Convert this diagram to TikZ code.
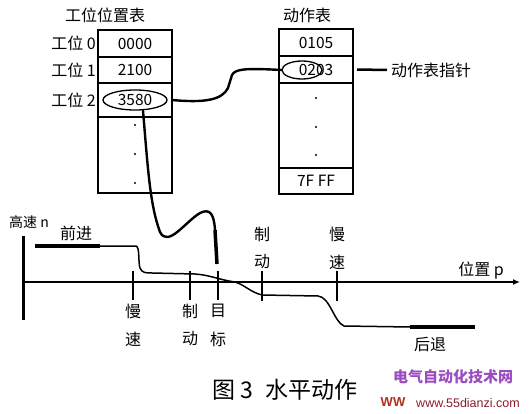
\documentclass[tikz,border=0pt]{standalone}
\usepackage{fontspec}
\setmainfont{Noto Sans CJK SC}
\newfontfamily\latin{Liberation Sans}
\usetikzlibrary{shapes.geometric,arrows.meta,positioning}
\definecolor{wmpurple}{HTML}{9A4CC0}
\definecolor{wmred}{HTML}{8A1C2C}
\definecolor{wmorange}{HTML}{B0301E}
\tikzset{
  cell/.style={draw, line width=1.3pt, minimum width=74pt, inner sep=0pt, outer sep=0pt, font=\fontsize{15.5}{15.5}\selectfont},
  lbl/.style={inner sep=0pt, font=\fontsize{16}{16}\selectfont},
  ring/.style={draw, ellipse, line width=1.3pt, inner sep=0pt},
  wire/.style={line width=2.4pt, line cap=round, line join=round},
  tick/.style={line width=1.8pt},
}
\begin{document}
\begin{tikzpicture}[x=1pt,y=-1pt]
\useasboundingbox (0,0) rectangle (529,414);
% position table
\node[lbl] (ttl1) at (105,15) {工位位置表};
\node[cell, minimum height=27pt] (w0) at (135,43.5) {0000};
\node[cell, minimum height=26pt, below=0pt of w0] (w1) {2100};
\node[cell, minimum height=34pt, below=0pt of w1] (w2) {3580};
\node[cell, minimum height=76pt, below=0pt of w2] (wr) {};
\foreach \y in {125,154,183} \fill (135,\y) circle (1.2pt);
\node[lbl, left=2pt of w0] (n0) {工位 0};
\node[lbl, left=2pt of w1] (n1) {工位 1};
\node[lbl, left=2pt of w2] (n2) {工位 2};
\node[ring, minimum width=64pt, minimum height=20pt] (e2) at (w2) {};
% action table
\node[lbl] (ttl2) at (307,15) {动作表};
\node[cell, minimum height=27pt] (a0) at (316,42.5) {0105};
\node[cell, minimum height=27pt, below=0pt of a0] (a1) {0203};
\node[cell, minimum height=85pt, below=0pt of a1] (ar) {};
\node[cell, minimum height=26pt, below=0pt of ar] (a2) {7F FF};
\foreach \y in {98,127,155} \fill (316,\y) circle (1.2pt);
\node[ring, minimum width=40pt, minimum height=18pt] (e1) at (302,70) {};
\node[lbl, anchor=west] (ptr) at (391,70) {动作表指针};
\draw[line width=2.5pt] ([xshift=-4pt]ptr.west) -- ([xshift=4pt]a1.east);
% pointer curves
\draw[wire] (w2.east) .. controls (205,103) and (222,100) .. (228,88) -- (232,75)
  .. controls (235,69) and (245,68) .. (e1.west);
\coordinate (tgt) at (217,264);
\draw[wire] ([xshift=8pt]e2.south) .. controls (148,170) and (150,205) .. (160,232)
  .. controls (168,248) and (185,222) .. (200,213) .. controls (210,208) and (214,214) .. (215,230);
\draw[line width=3.5pt] (215,230) -- (tgt);
% axes
\draw[line width=2.6pt, -{Latex[length=7pt,width=6pt]}] (23,282) -- (520,282);
\draw[line width=3pt] (23,236) -- (23,320);
\node[lbl, font=\fontsize{14}{14}\selectfont] (vlab) at (29,222) {高速 n};
\node[lbl] (hlab) at (481,271) {位置 p};
% marks below
\foreach \x/\a/\b in {133/慢/速, 190/制/动, 218/目/标} {
  \draw[tick] (\x,271) -- (\x,300);
  \node[lbl] at (\x,311) {\a};
  \node[lbl] at (\x,339) {\b};
}
% marks above
\foreach \x/\a/\b in {262/制/动, 337/慢/速} {
  \draw[tick] (\x,271) -- (\x,301);
  \node[lbl] at (\x,234) {\a};
  \node[lbl] at (\x,262) {\b};
}
% speed profile
\node[lbl] (fwd) at (76,233) {前进};
\node[lbl] (bwd) at (430,344) {后退};
\draw[line width=4pt] (35,246) -- (100,246);
\draw[line width=1.5pt, line join=round] (100,246) -- (136,246) .. controls (140,247) and (138,262) .. (140,268)
  .. controls (142,273) and (146,273) .. (152,273) -- (195,274)
  .. controls (210,275) and (220,280) .. (235,282) .. controls (245,285) and (250,292) .. (262,295)
  -- (318,296) .. controls (330,297) and (334,322) .. (344,326) -- (410,327);
\draw[line width=4.5pt] (410,327) -- (475,327);
% caption
\node[lbl, font=\fontsize{23}{23}\selectfont] (cap) at (285,390) {图 3\enspace 水平动作};
\node[lbl, text=wmpurple, font=\fontsize{15}{15}\selectfont\bfseries] (wm1) at (453,377) {电气自动化技术网};
\node[lbl, text=wmorange, font=\latin\fontsize{13}{13}\selectfont\bfseries] (wm2) at (393,402) {WW};
\node[lbl, text=wmred, font=\latin\fontsize{12.5}{12.5}\selectfont] (wm3) at (468,403) {www.55dianzi.com};
\end{tikzpicture}
\end{document}
